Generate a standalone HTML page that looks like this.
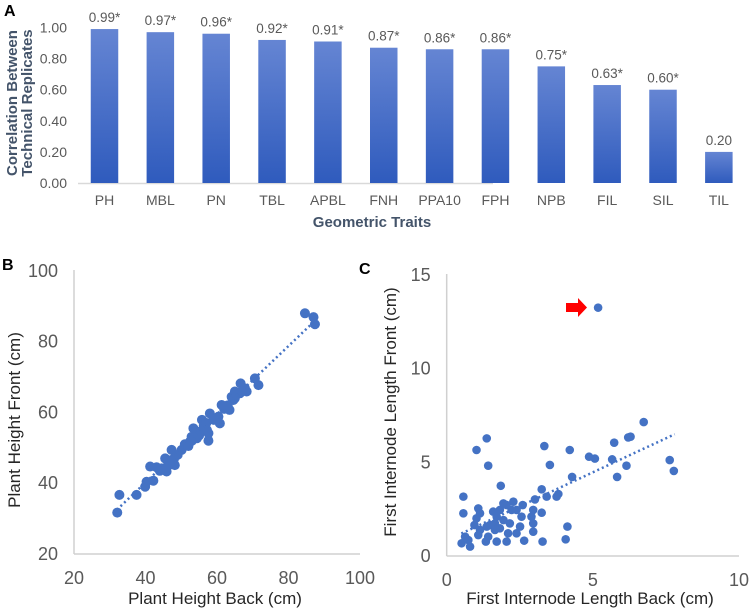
<!DOCTYPE html>
<html><head><meta charset="utf-8"><style>
body{margin:0;background:#fff;}
svg{display:block;font-family:"Liberation Sans",Arial,sans-serif;}
</style></head><body>
<svg id="fig" width="751" height="612" viewBox="0 0 751 612">
<defs><linearGradient id="bg" x1="0" y1="0" x2="0" y2="1"><stop offset="0" stop-color="#6585d3"/><stop offset="1" stop-color="#2f5bbd"/></linearGradient></defs>
<text x="4" y="16" font-size="16" font-weight="bold">A</text>
<text x="2" y="270" font-size="16" font-weight="bold">B</text>
<text x="359" y="274" font-size="16" font-weight="bold">C</text>
<g id="pa"></g><g id="pb"></g><g id="pc"></g>
</svg>
<script>
const NS="http://www.w3.org/2000/svg";
function mk(p,t,a,txt){const e=document.createElementNS(NS,t);for(const k in a)e.setAttribute(k,a[k]);if(txt!==undefined)e.textContent=txt;p.appendChild(e);return e;}

// ---- Panel A data ----
const traits=["PH","MBL","PN","TBL","APBL","FNH","PPA10","FPH","NPB","FIL","SIL","TIL"];
const corrValues=[0.99,0.97,0.96,0.92,0.91,0.87,0.86,0.86,0.75,0.63,0.60,0.20];
const corrLabels=["0.99*","0.97*","0.96*","0.92*","0.91*","0.87*","0.86*","0.86*","0.75*","0.63*","0.60*","0.20"];
const aTicks=[0,0.2,0.4,0.6,0.8,1.0];

// ---- Panel B data ----
const bBack=[32.1,32.7,37.5,39.9,40.3,42.2,41.3,43.1,44.5,45.5,45.9,46.4,47.3,47.8,48.2,50.1,52.4,52.9,53.4,54.4,55.3,55.8,56.3,57.2,57.6,57.6,58.0,59.1,60.4,60.8,61.3,62.7,63.5,64.1,64.6,65.0,66.4,66.6,67.8,68.3,70.6,71.6,84.6,87.0,87.4,44,46,48,49,51,53,54,56,57,59,62,63,65,67,47,52,55];
const bFront=[31.7,36.7,36.7,39.0,40.4,40.7,44.7,44.5,44.2,47.0,43.3,45.6,49.4,46.6,45.1,49.4,51.7,53.1,55.5,52.7,54.6,57.9,56.4,55.0,52.0,54.1,59.7,57.9,58.8,56.9,62.1,61.6,60.7,64.4,63.5,65.9,65.4,68.2,66.8,65.9,69.6,67.7,88.0,86.9,84.9,43.5,44.5,47,48,51,52,54,55,57,58,61,62,64,66,46.5,50.5,53.5];
const bTrend=[[32,32.5],[87,85.5]];
const bTicks=[20,40,60,80,100];

// ---- Panel C data ----
const cBack=[0.57,0.57,1.02,1.37,1.42,1.85,3.34,3.53,4.21,4.29,4.87,5.07,5.18,5.66,5.73,6.21,6.29,6.15,5.83,6.74,7.63,7.77,3.25,3.42,3.76,3.82,3.02,3.25,2.96,2.96,2.96,2.9,3.28,2.65,4.07,4.13,2.6,2.56,2.28,2.39,2.51,2.39,2.1,2.05,1.94,1.82,1.71,1.65,1.65,1.94,1.59,1.71,1.37,1.34,1.42,1.14,1.08,0.95,1.02,1.08,1.14,0.74,0.51,0.63,0.8,2.16,2.22,2.05,1.48,1.82];
const cFront=[3.17,2.28,5.66,6.28,4.82,3.75,5.87,4.86,5.66,4.22,5.3,5.2,13.26,5.16,6.05,6.33,6.37,4.82,4.22,7.15,5.12,4.54,3.56,3.17,3.17,3.31,3.02,2.31,2.46,1.74,1.3,2.1,0.77,0.82,0.89,1.57,2.72,2.1,2.9,2.46,1.57,1.21,1.21,0.77,2.81,2.46,2.1,1.74,1.39,1.92,2.37,0.77,1.57,0.77,1.03,1.39,1.12,1.65,2.01,2.54,2.28,0.85,0.68,1.03,0.5,1.74,2.46,2.72,1.65,1.48];
const cTrend=[[0.5,1.2],[7.8,6.5]];
const cXTicks=[0,5,10];
const cYTicks=[0,5,10,15];

// Panel A
(function(){
const g=document.getElementById('pa');
const step=55.85, bw=27.5;
const cx=i=>104.5+i*step;
const y=v=>183-v*155.5;
mk(g,'line',{x1:78,y1:183.5,x2:493,y2:183.5,stroke:'#d9d9d9','stroke-width':1.5,});
aTicks.forEach(t=>{const e=mk(g,'text',{x:67,y:y(t)+5,'font-size':14,fill:'#595959','text-anchor':'end'},t.toFixed(2));
});
traits.forEach((tr,i)=>{
 const r=mk(g,'rect',{x:cx(i)-bw/2,y:y(corrValues[i]),width:bw,height:183-y(corrValues[i]),fill:'url(#bg)'});
 
 const l=mk(g,'text',{x:cx(i),y:y(corrValues[i])-7,'font-size':13.5,fill:'#595959','text-anchor':'middle'},corrLabels[i]);
 
 const t=mk(g,'text',{x:cx(i),y:205,'font-size':14,fill:'#595959','text-anchor':'middle'},tr);
 
});
mk(g,'text',{x:372,y:227,'font-size':15,'font-weight':'bold',fill:'#44546a','text-anchor':'middle',},'Geometric Traits');
const yt=mk(g,'text',{transform:'translate(0,103) rotate(-90)','font-size':15,'font-weight':'bold',fill:'#44546a','text-anchor':'middle',});
mk(yt,'tspan',{x:0,y:17},'Correlation Between');
mk(yt,'tspan',{x:0,y:32},'Technical Replicates');
})();

function scatter(gid,xs,ys,xt,yt,X,Y,r,trend,xl,yl,xlab,ylab,pre,axx0,axx1,axy0,axy1){
const g=document.getElementById(gid);
mk(g,'line',{x1:axx0,y1:axy0,x2:axx1,y2:axy0,stroke:'#d0d0d0','stroke-width':1.5,});
mk(g,'line',{x1:axx0,y1:axy0,x2:axx0,y2:axy1,stroke:'#d0d0d0','stroke-width':1.5,});
xt.forEach(t=>{const e=mk(g,'text',{x:X(t),y:axy0+30,'font-size':18,fill:'#595959','text-anchor':'middle'},t);
});
yt.forEach(t=>{const e=mk(g,'text',{x:axx0-16,y:Y(t)+6,'font-size':18,fill:'#595959','text-anchor':'end'},t);
});
xs.forEach((v,i)=>{const c=mk(g,'circle',{cx:X(v),cy:Y(ys[i]),r:r,fill:'#4472c4'});
});
const tl=mk(g,'line',{x1:X(trend[0][0]),y1:Y(trend[0][1]),x2:X(trend[1][0]),y2:Y(trend[1][1]),stroke:'#4472c4','stroke-width':2.5,'stroke-dasharray':'2 3'});

mk(g,'text',{x:xl[0],y:xl[1],'font-size':17,fill:'#262626','text-anchor':'middle',},xlab);
mk(g,'text',{transform:'translate('+yl[0]+','+yl[1]+') rotate(-90)','font-size':17,fill:'#262626','text-anchor':'middle',},ylab);
}
scatter('pb',bBack,bFront,bTicks,bTicks,v=>74+(v-20)*3.575,v=>554-(v-20)*3.54,5,bTrend,[215,604],[20,420],'Plant Height Back (cm)','Plant Height Front (cm)','b',74,360,554,270);
scatter('pc',cBack,cFront,cXTicks,cYTicks,v=>446.7+v*29.23,v=>556-v*18.73,4.3,cTrend,[590,604],[396,412],'First Internode Length Back (cm)','First Internode Length Front (cm)','c',446.7,739,556,274);
const g=document.getElementById('pc');
mk(g,'polygon',{points:'566,303 578,303 578,298 587,307.5 578,317 578,312 566,312',fill:'#ff0000',});
</script>
</body></html>
